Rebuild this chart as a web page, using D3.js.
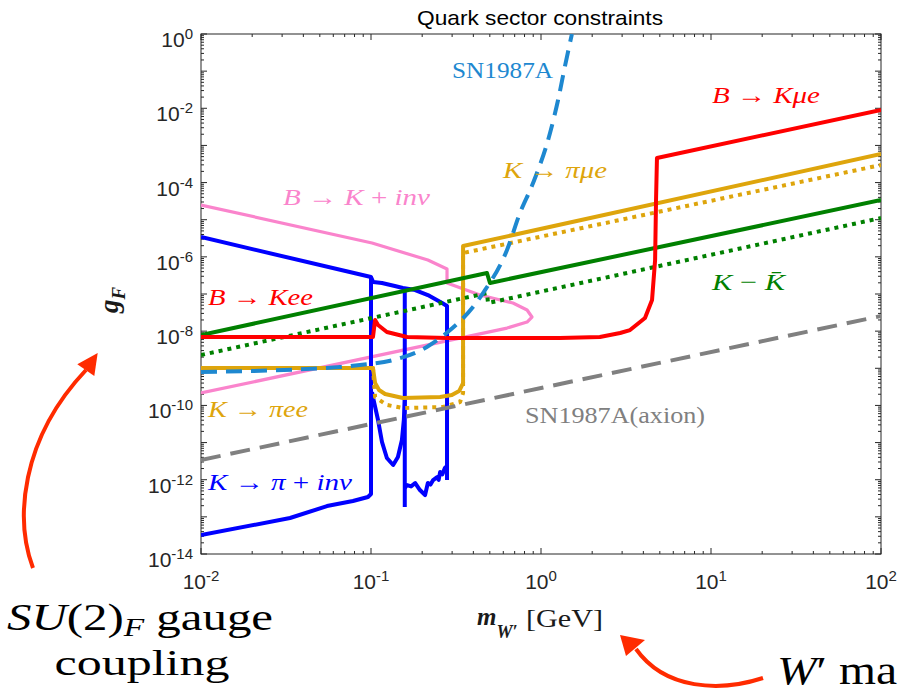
<!DOCTYPE html>
<html>
<head>
<meta charset="utf-8">
<script src="https://cdn.jsdelivr.net/npm/d3@7"></script>
<style>
body { margin: 0; background: #fff; }
</style>
</head>
<body>
<div id="chart"></div>
<script>
// tick exponents (labels shown every other decade on y)
var xTickExp = [-2, -1, 0, 1, 2];
var yTickExp = [0, -2, -4, -6, -8, -10, -12, -14];

// curves: [m_W' in GeV, g_F]
var bKinv = [[0.01,2.49e-5],[0.1014,2.36e-6],[0.216,8.22e-7],[0.28,4.71e-7],[0.28,1.98e-7],[0.4375,9.4e-8],[0.684,5.71e-8],[0.828,3.7e-8],[0.885,2.4e-8],[0.828,1.76e-8],[0.631,1.21e-8],[0.01,2.16e-10]];

var kPiInvOuter = [[0.01,3.42e-6],[0.1,2.86e-7],[0.1,4.12e-13],[0.096,3.42e-13],[0.0783,2.67e-13],[0.0551,1.95e-13],[0.0334,9.3e-14],[0.01,3.24e-14]];
var kPiInvUpper = [[0.1,2.86e-7],[0.103,2.1e-7],[0.116,1.98e-7],[0.138,1.64e-7],[0.154,1.45e-7],[0.182,1.28e-7],[0.216,9.38e-8],[0.262,5.71e-8],[0.28,4.74e-8],[0.28,9.8e-13]];
var kPiInvMid = [[0.158,1.45e-7],[0.158,1.84e-13]];
var kPiInvDip = [[0.1014,2.3e-10],[0.1027,1.68e-10],[0.110,4.05e-11],[0.116,1.04e-11],[0.124,3.84e-12],[0.135,2.49e-12],[0.144,4.08e-12],[0.152,1.17e-11],[0.156,4.05e-11],[0.158,1.4e-10]];
var kPiInvNoise = [[0.158,5.97e-13],[0.163,7.19e-13],[0.172,6.6e-13],[0.182,8.14e-13],[0.194,5.27e-13],[0.208,3.87e-13],[0.216,8.14e-13],[0.224,7.4e-13],[0.232,9.8e-13],[0.245,1.18e-12],[0.25,9.9e-13],[0.255,1.61e-12],[0.263,1.4e-12],[0.272,2.06e-12],[0.28,2.33e-12]];

var bKll = [[0.01,6.95e-9],[0.1027,6.95e-9],[0.1057,2.0e-8],[0.110,1.46e-8],[0.124,9.46e-9],[0.163,6.95e-9],[0.28,6.53e-9],[1.29,6.53e-9],[2.22,6.95e-9],[2.92,8.9e-9],[3.34,1.07e-8],[4.09,2.25e-8],[4.5,6.9e-8],[4.69,8.2e-7],[4.75,3.39e-5],[4.81,4.58e-4],[100,9.0e-3]];

var kPill = [[0.01,1.02e-9],[0.1027,1.02e-9],[0.1057,4.0e-10],[0.1115,2.6e-10],[0.121,2.03e-10],[0.154,1.58e-10],[0.255,1.68e-10],[0.299,1.9e-10],[0.33,2.44e-10],[0.348,4.0e-10],[0.348,1.96e-6],[100,5.87e-4]];
var kPillDot = [[0.01,1.02e-9],[0.1027,1.02e-9],[0.1057,1.68e-10],[0.124,1.03e-10],[0.154,8.5e-11],[0.265,9.1e-11],[0.334,1.23e-10],[0.348,2.16e-10],[0.348,1.27e-6],[100,2.97e-4]];

var kKbar = [[0.01,7.87e-9],[0.481,3.67e-7],[0.501,1.98e-7],[100,3.39e-5]];
var kKbarDot = [[0.01,2.28e-9],[0.481,1.06e-7],[0.488,5.71e-8],[100,1.11e-5]];

var sn1987a = [[0.01,7.93e-10],[0.0658,1.08e-9],[0.0861,1.22e-9],[0.135,1.67e-9],[0.213,3.74e-9],[0.292,1.07e-8],[0.398,4.46e-8],[0.456,1.06e-7],[0.631,1.53e-6],[0.752,1.51e-5],[0.898,9.7e-5],[1.13,2.16e-3],[1.26,1.67e-2],[1.38,0.129],[1.52,1.0]];
var snAxion = [[0.01,3.39e-12],[100,2.55e-8]];

var pink = "#FA84CC", blue = "#0000FF", red = "#FF0000", gold = "#DEA50C",
    green = "#008000", snBlue = "#1E88D0", gray = "#808080", axisCol = "#262626";

var svg = d3.select("#chart").append("svg").attr("width", 901).attr("height", 693);
var L = 201, T = 34, R = 881, B = 554;

var x = d3.scaleLog().domain([1e-2, 1e2]).range([L, R]);
var y = d3.scaleLog().domain([1e-14, 1]).range([B, T]);

svg.append("clipPath").attr("id", "plotclip")
  .append("rect").attr("x", L).attr("y", T).attr("width", R - L).attr("height", B - T);

// title
svg.append("text").attr("x", 540).attr("y", 25)
  .attr("text-anchor", "middle")
  .style("font-family", "'Liberation Sans', Arial, sans-serif")
  .style("font-size", "21px").style("fill", "#000")
  .attr("textLength", 246).attr("lengthAdjust", "spacingAndGlyphs")
  .text("Quark sector constraints");

// ticks
var xTicks = [], yTicks = [];
for (var e = -2; e < 2; e++) for (var k = 1; k < 10; k++) xTicks.push({v: k * Math.pow(10, e), major: k === 1});
xTicks.push({v: 100, major: true});
for (var e2 = -14; e2 < 0; e2++) for (var k2 = 1; k2 < 10; k2++) yTicks.push({v: k2 * Math.pow(10, e2), major: k2 === 1});
yTicks.push({v: 1, major: true});

var axes = svg.append("g").style("stroke", axisCol).style("stroke-width", 1);
axes.selectAll("line.xb").data(xTicks).enter().append("line")
  .attr("x1", d => x(d.v)).attr("x2", d => x(d.v))
  .attr("y1", B).attr("y2", d => B - (d.major ? 6 : 3));
axes.selectAll("line.xt").data(xTicks).enter().append("line")
  .attr("x1", d => x(d.v)).attr("x2", d => x(d.v))
  .attr("y1", T).attr("y2", d => T + (d.major ? 6 : 3));
axes.selectAll("line.yl").data(yTicks).enter().append("line")
  .attr("y1", d => y(d.v)).attr("y2", d => y(d.v))
  .attr("x1", L).attr("x2", d => L + (d.major ? 6 : 3));
axes.selectAll("line.yr").data(yTicks).enter().append("line")
  .attr("y1", d => y(d.v)).attr("y2", d => y(d.v))
  .attr("x1", R).attr("x2", d => R - (d.major ? 6 : 3));
axes.append("rect").attr("x", L).attr("y", T).attr("width", R - L).attr("height", B - T)
  .style("fill", "none");

// tick labels
var tickFont = "'Liberation Sans', Arial, sans-serif";
var xl = svg.selectAll("text.xtl").data(xTickExp).enter().append("text")
  .attr("x", d => x(Math.pow(10, d))).attr("y", 589)
  .attr("text-anchor", "middle")
  .style("font-family", tickFont).style("font-size", "21px").style("fill", axisCol);
xl.append("tspan").text("10");
xl.append("tspan").attr("dy", -8).style("font-size", "15px").text(d => d);

var yl = svg.selectAll("text.ytl").data(yTickExp).enter().append("text")
  .attr("x", 193).attr("y", d => y(Math.pow(10, d)) + 13)
  .attr("text-anchor", "end")
  .style("font-family", tickFont).style("font-size", "21px").style("fill", axisCol);
yl.append("tspan").text("10");
yl.append("tspan").attr("dy", -8).style("font-size", "15px").text(d => d);

// curves
var plot = svg.append("g").attr("clip-path", "url(#plotclip)");
var line = d3.line().x(d => x(d[0])).y(d => y(d[1]));
var smooth = d3.line().x(d => x(d[0])).y(d => y(d[1])).curve(d3.curveMonotoneX);

function drawCurve(data, color, width, dash, gen) {
  plot.append("path").datum(data)
    .attr("d", gen || line)
    .style("fill", "none").style("stroke", color)
    .style("stroke-width", width)
    .style("stroke-linejoin", "round")
    .style("stroke-dasharray", dash || null);
}

drawCurve(bKinv, pink, 3.2);
drawCurve(kPiInvOuter, blue, 4);
drawCurve(kPiInvUpper, blue, 4);
drawCurve(kPiInvMid, blue, 4);
drawCurve(kPiInvDip, blue, 4);
drawCurve(kPiInvNoise, blue, 4);
drawCurve(kPillDot, gold, 4, "4,5");
drawCurve(kPill, gold, 4);
drawCurve(kKbarDot, green, 4, "4,5");
drawCurve(kKbar, green, 4);
drawCurve(bKll, red, 4);
drawCurve(sn1987a, snBlue, 4, "16,9", smooth);
drawCurve(snAxion, gray, 4, "20,10");

// curve labels
var labels = [
  {p: [["SN1987A", 0]], x: 452, y: 78, w: 101, c: snBlue},
  {p: [["B", 1], [" \u2192 ", 0], ["K\u03BCe", 1]], x: 712, y: 103, w: 108, c: red},
  {p: [["K", 1], [" \u2192 ", 0], ["\u03C0\u03BCe", 1]], x: 503, y: 178, w: 104, c: gold},
  {p: [["B", 1], [" \u2192 ", 0], ["K", 1], [" + ", 0], ["inv", 1]], x: 283, y: 205, w: 147, c: pink},
  {p: [["B", 1], [" \u2192 ", 0], ["Kee", 1]], x: 208, y: 305, w: 105, c: red},
  {p: [["K", 1], [" \u2212 ", 0], ["K\u0304", 1]], x: 712, y: 290, w: 73, c: green},
  {p: [["K", 1], [" \u2192 ", 0], ["\u03C0ee", 1]], x: 208, y: 417, w: 100, c: gold},
  {p: [["SN1987A(axion)", 0]], x: 525, y: 423, w: 180, c: gray},
  {p: [["K", 1], [" \u2192 ", 0], ["\u03C0", 1], [" + ", 0], ["inv", 1]], x: 208, y: 490, w: 144, c: blue}
];
labels.forEach(function (lb) {
  var t = svg.append("text").attr("x", lb.x).attr("y", lb.y)
    .style("font-family", "'Liberation Serif', 'Times New Roman', serif")
    .style("font-size", "24px").style("fill", lb.c)
    .attr("textLength", lb.w).attr("lengthAdjust", "spacingAndGlyphs")
    .attr("xml:space", "preserve");
  lb.p.forEach(function (s) {
    t.append("tspan").style("font-style", s[1] ? "italic" : "normal").text(s[0]);
  });
});

// axis labels
var serif = "'Liberation Serif', 'Times New Roman', serif";
var xlab = svg.append("text").attr("x", 477).attr("y", 625)
  .style("font-family", serif).style("fill", "#1a1a1a");
xlab.append("tspan").style("font-size", "25px").style("font-weight", "bold").style("font-style", "italic").text("m");
xlab.append("tspan").attr("dy", 13).style("font-size", "18px").style("font-weight", "bold").style("font-style", "italic").text("W\u2032");
xlab.append("tspan").attr("x", 526).attr("dy", -11).style("font-size", "25px")
  .attr("textLength", 77).attr("lengthAdjust", "spacingAndGlyphs").text("[GeV]");

var ylab = svg.append("text").attr("transform", "translate(118,313) rotate(-90)")
  .style("font-family", serif).style("fill", "#1a1a1a");
ylab.append("tspan").style("font-size", "27px").style("font-weight", "bold").style("font-style", "italic").text("g");
ylab.append("tspan").attr("dy", 7).style("font-size", "19px").style("font-weight", "bold").style("font-style", "italic").text("F");

// annotations around the figure
var ann = svg.append("g").style("font-family", serif).style("fill", "#000");
var a1 = ann.append("text").attr("x", 140).attr("y", 630).attr("text-anchor", "middle")
  .style("font-size", "38px").attr("textLength", 266).attr("lengthAdjust", "spacingAndGlyphs");
a1.append("tspan").style("font-style", "italic").text("SU");
a1.append("tspan").text("(2)");
a1.append("tspan").attr("dy", 6).style("font-style", "italic").style("font-size", "26px").text("F");
a1.append("tspan").attr("dy", -6).text(" gauge");
ann.append("text").attr("x", 142).attr("y", 675).attr("text-anchor", "middle")
  .style("font-size", "36px").attr("textLength", 175).attr("lengthAdjust", "spacingAndGlyphs")
  .text("coupling");
var a3 = ann.append("text").attr("x", 777).attr("y", 684).style("font-size", "40px")
  .attr("textLength", 120).attr("lengthAdjust", "spacingAndGlyphs");
a3.append("tspan").style("font-style", "italic").text("W");
a3.append("tspan").text("\u2032 ma");

// red arrows
var arrowCol = "#FF2B00";
svg.append("path").attr("d", "M33,568 C15,520 20,440 86,370")
  .style("fill", "none").style("stroke", arrowCol).style("stroke-width", 4);
svg.append("path").attr("d", "M97.7,353 L77.3,364.3 L94.3,376 Z").style("fill", arrowCol);
svg.append("path").attr("d", "M763,678 C720,692 665,690 636,649")
  .style("fill", "none").style("stroke", arrowCol).style("stroke-width", 4);
svg.append("path").attr("d", "M620,635 L626,656 L645,640 Z").style("fill", arrowCol);
</script>
</body>
</html>
